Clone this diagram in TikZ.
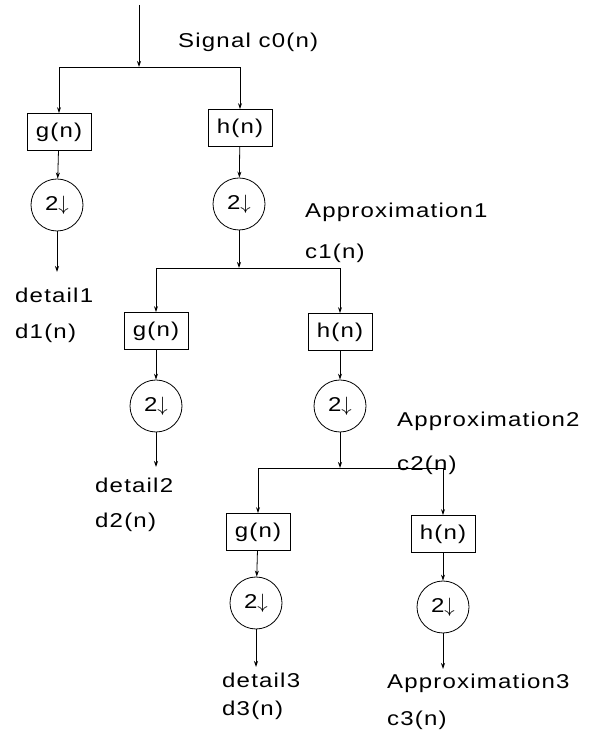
\documentclass[tikz,border=0pt]{standalone}
\usepackage{fontspec}
\setmainfont{Liberation Sans}[FakeStretch=1.2,LetterSpace=6]
\usetikzlibrary{arrows.meta}
\begin{document}
\begin{tikzpicture}[x=1pt,y=1pt,
  every node/.style={font=\fontsize{20}{22}\selectfont},
  filt/.style={draw, line width=0.8pt, minimum width=64pt, minimum height=37pt, inner sep=2pt},
  dsamp/.style={draw, circle, line width=0.8pt, minimum size=52pt, inner sep=0pt},
  lbl/.style={anchor=west, inner sep=0pt},
  conn/.style={line width=0.8pt, -{Stealth[length=6pt,width=4pt]}},
  wire/.style={line width=0.8pt}]
\useasboundingbox (0,0) rectangle (598,734);
\newcommand{\twodown}{2$\downarrow$}
% level 0
\coordinate (in) at (139,729);
\coordinate (j0) at (139,667);
\node[filt] (g0) at (59,602) {g(n)};
\node[filt] (h0) at (240,606) {h(n)};
\node[dsamp] (dg0) at (57,529) {\twodown};
\node[dsamp] (dh0) at (239,530) {\twodown};
\coordinate (o0) at (57,462);
\coordinate (j1) at (239,466);
\node[lbl] (sig) at (178,692) {Signal c0(n)};
\node[lbl] (det1) at (15,439) {detail1};
\node[lbl] (dd1) at (15,401) {d1(n)};
\node[lbl] (ap1) at (305,522) {Approximation1};
\node[lbl] (cc1) at (305,481) {c1(n)};
% level 1
\node[filt] (g1) at (156,403) {g(n)};
\node[filt] (h1) at (340,402) {h(n)};
\node[dsamp] (dg1) at (156,328) {\twodown};
\node[dsamp] (dh1) at (340,328) {\twodown};
\coordinate (o1) at (156,267);
\coordinate (j2) at (340,266);
\node[lbl] (det2) at (95,249) {detail2};
\node[lbl] (dd2) at (95,212) {d2(n)};
\node[lbl] (ap2) at (397,313) {Approximation2};
\node[lbl] (cc2) at (397,269) {c2(n)};
% level 2
\node[filt] (g2) at (258,202) {g(n)};
\node[filt] (h2) at (443,200) {h(n)};
\node[dsamp] (dg2) at (256,131) {\twodown};
\node[dsamp] (dh2) at (443,127) {\twodown};
\coordinate (o2) at (256,67);
\coordinate (o3) at (443,65);
\node[lbl] (det3) at (222,54) {detail3};
\node[lbl] (dd3) at (222,24) {d3(n)};
\node[lbl] (ap3) at (387,51) {Approximation3};
\node[lbl] (cc3) at (387,14) {c3(n)};
% connectors
\draw[conn] (in) -- (j0);
\draw[conn] (j0) -| (g0);
\draw[conn] (j0) -| (h0);
\draw[conn] (g0) -- (dg0);
\draw[conn] (h0) -- (dh0);
\draw[conn] (dg0) -- (o0);
\draw[conn] (dh0) -- (j1);
\draw[conn] (j1) -| (g1);
\draw[conn] (j1) -| (h1);
\draw[conn] (g1) -- (dg1);
\draw[conn] (h1) -- (dh1);
\draw[conn] (dg1) -- (o1);
\draw[conn] (dh1) -- (j2);
\draw[conn] (j2) -| (g2);
\draw[conn] (j2) -| (h2);
\draw[conn] (g2) -- (dg2);
\draw[conn] (h2) -- (dh2);
\draw[conn] (dg2) -- (o2);
\draw[conn] (dh2) -- (o3);
\end{tikzpicture}
\end{document}
